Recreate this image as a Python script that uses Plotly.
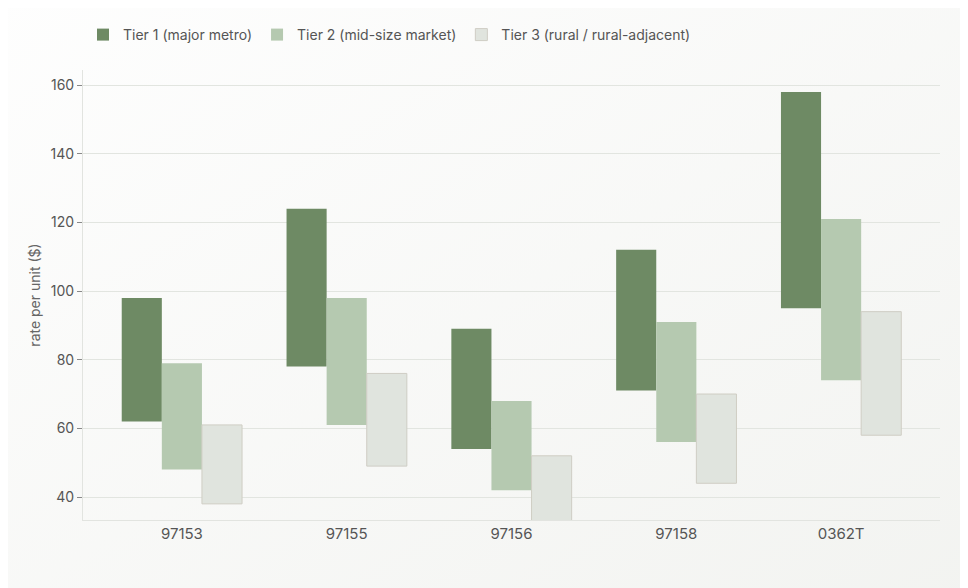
import plotly.graph_objects as go

codes = ["97153", "97155", "97156", "97158", "0362T"]

tier1_low = [62, 78, 54, 71, 95]
tier1_high = [98, 124, 89, 112, 158]
tier2_low = [48, 61, 42, 56, 74]
tier2_high = [79, 98, 68, 91, 121]
tier3_low = [38, 49, 30, 44, 58]
tier3_high = [61, 76, 52, 70, 94]

tiers = [
    ("Tier 1 (major metro)", tier1_low, tier1_high, "#6e8a64", "#6e8a64", 0),
    ("Tier 2 (mid-size market)", tier2_low, tier2_high, "#b5c9b0", "#b5c9b0", 0),
    ("Tier 3 (rural / rural-adjacent)", tier3_low, tier3_high, "#e0e4de", "#cfcdc4", 1),
]

fig = go.Figure()
for name, lo, hi, fill, edge, lw in tiers:
    fig.add_trace(go.Bar(
        x=codes,
        y=[h - l for l, h in zip(lo, hi)],
        base=lo,
        name=name,
        marker=dict(color=fill, line=dict(color=edge, width=lw)),
    ))

# soft diagonal background like the original
bg = ("data:image/svg+xml;utf8,<svg xmlns='http://www.w3.org/2000/svg' width='100' height='100' "
      "preserveAspectRatio='none'><defs><linearGradient id='g' x1='0' y1='0' x2='1' y2='1'>"
      "<stop offset='0' stop-color='%23ffffff'/><stop offset='1' stop-color='%23f1f2ef'/>"
      "</linearGradient></defs><rect width='100' height='100' fill='url(%23g)'/></svg>")

# page body has an 8px margin, so the figure is 8px smaller to fit the window
fig.update_layout(
    width=960, height=580,
    barmode="group",
    bargap=0.27,
    bargroupgap=0,
    paper_bgcolor="rgba(0,0,0,0)",
    plot_bgcolor="rgba(0,0,0,0)",
    font=dict(family="Inter", size=14, color="#555"),
    margin=dict(l=75, r=28, t=62, b=68),
    images=[dict(source=bg, xref="paper", yref="paper", x=-0.2, y=1.3,
                 sizex=1.4, sizey=1.6, sizing="stretch", layer="below",
                 xanchor="left", yanchor="top")],
    legend=dict(orientation="h", x=0, xanchor="left", yref="container",
                y=1 - 27 / 580, yanchor="middle",
                font=dict(size=14, color="#555"), itemwidth=30,
                traceorder="normal"),
    xaxis=dict(range=[-0.6, 4.6], showline=True, linecolor="#e2e4e0",
               linewidth=1, ticks="", tickfont=dict(size=15, color="#555"),
               showgrid=False),
    yaxis=dict(range=[33.3, 164.4], title=dict(text="rate per unit ($)",
               font=dict(size=14, color="#666"), standoff=6),
               showline=True, linecolor="#e2e4e0", linewidth=1,
               gridcolor="#e2e5e0", tick0=40, dtick=20, ticks="outside",
               ticklen=5, tickcolor="#888", tickfont=dict(size=14, color="#555"),
               zeroline=False),
)

fig.write_html("out.html")
